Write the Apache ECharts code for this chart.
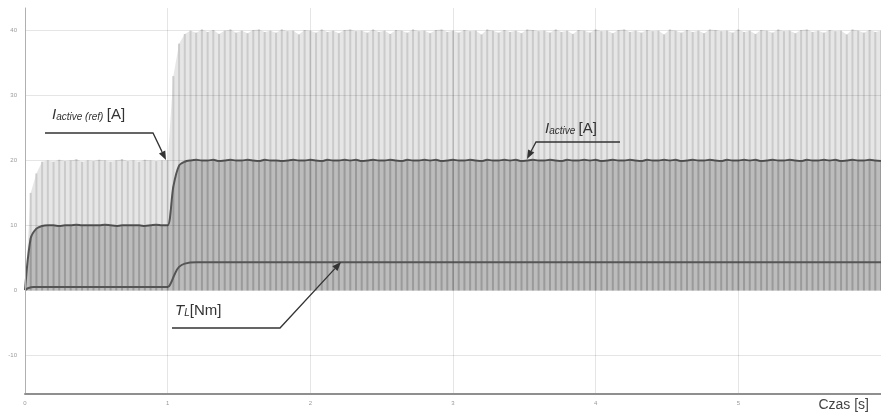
<!DOCTYPE html>
<html>
<head>
<meta charset="utf-8">
<script src="https://cdn.jsdelivr.net/npm/echarts@6/dist/echarts.min.js"></script>
<style>
  html, body { margin: 0; padding: 0; background: #fff; }
  #chart { width: 881px; height: 418px; }
</style>
</head>
<body>
<div id="chart"></div>
<script>
// sample step of the recorded signals [s]
var STEP = 0.04;

// upper envelope of the oscillating reference current (light band)
var refEnvelope = [
  0, 15, 18, 19.8,
  20.0, 19.8, 20.1, 19.9, 20.0, 20.2, 19.8, 20.0, 19.9, 20.1, 20.0, 19.8, 20.0, 20.2, 19.9, 20.0, 19.8, 20.1, 20.0, 19.9, 20.0,
  20, 33, 38, 39.5,
  40.0, 39.7, 40.2, 39.8, 40.1, 39.5, 40.0, 40.2, 39.7, 40.0,
  39.6, 40.1, 40.2, 39.8, 40.0, 39.7, 40.2, 39.9, 40.0, 39.4,
  40.1, 40.0, 39.7, 40.2, 39.8, 40.0, 39.6, 40.1, 40.2, 39.9,
  40.0, 39.7, 40.2, 39.8, 40.0, 39.5, 40.1, 40.0, 39.7, 40.2,
  39.9, 40.0, 39.6, 40.1, 40.2, 39.8, 40.0, 39.7, 40.1, 39.9,
  40.0, 39.4, 40.2, 40.0, 39.7, 40.1, 39.8, 40.0, 39.6, 40.2,
  40.1, 39.9, 40.0, 39.7, 40.2, 39.8, 40.0, 39.5, 40.1, 40.0,
  39.7, 40.2, 39.9, 40.0, 39.6, 40.1, 40.2, 39.8, 40.0, 39.7,
  40.1, 39.9, 40.0, 39.4, 40.2, 40.0, 39.7, 40.1, 39.8, 40.0,
  39.6, 40.2, 40.1, 39.9, 40.0, 39.7, 40.2, 39.8, 40.0, 39.5,
  40.1, 40.0, 39.7, 40.2, 39.9, 40.0, 39.6, 40.1, 40.2, 39.8,
  40.0, 39.7, 40.1, 39.9, 40.0, 39.4, 40.2, 40.0, 39.7, 40.1,
  39.8, 40.0
];

// active current I_active [A]
var iActive = [
  0, 8, 9.5, 9.9,
  10.0, 10.0, 9.9, 10.0, 10.0, 10.1, 10.0, 10.0, 10.0, 10.0, 10.1, 10.0, 9.9, 10.0, 10.0, 10.0, 10.0, 9.9, 10.0, 10.1, 10.0, 10.0,
  16, 19.2, 19.8,
  20.0, 20.1, 20.0, 20.0, 20.1, 19.9, 20.0, 20.1, 20.0, 20.0,
  20.1, 20.0, 19.9, 20.1, 20.0, 20.0, 19.9, 20.0, 20.1, 20.0,
  20.0, 20.1, 20.0, 19.9, 20.1, 20.0, 20.0, 20.1, 20.0, 20.1,
  19.9, 20.0, 20.1, 20.0, 20.0, 20.1, 20.0, 19.9, 20.1, 20.0,
  20.0, 20.1, 20.0, 20.1, 19.9, 20.0, 20.1, 20.0, 20.0, 20.1,
  20.0, 19.9, 20.1, 20.0, 20.0, 20.1, 20.0, 20.1, 19.9, 20.0,
  20.1, 20.0, 20.0, 20.1, 20.0, 19.9, 20.1, 20.0, 20.0, 20.1,
  20.0, 20.1, 19.9, 20.0, 20.1, 20.0, 20.0, 20.1, 20.0, 19.9,
  20.1, 20.0, 20.0, 20.1, 20.0, 20.1, 19.9, 20.0, 20.1, 20.0,
  20.0, 20.1, 20.0, 19.9, 20.1, 20.0, 20.0, 20.1, 20.0, 20.1,
  19.9, 20.0, 20.1, 20.0, 20.0, 20.1, 20.0, 19.9, 20.1, 20.0,
  20.0, 20.1, 20.0, 20.1, 19.9, 20.0, 20.1, 20.0, 20.0, 20.1,
  20.0, 19.9
];

// load torque T_L [Nm], key points
var tlTime = [0, 0.02, 0.06, 1.0, 1.02, 1.05, 1.08, 1.12, 1.2, 6.0];
var tlValue = [0, 0.3, 0.5, 0.5, 1.0, 2.5, 3.6, 4.1, 4.3, 4.3];

var xTicks = ['0', '1', '2', '3', '4', '5', '6'];
var yTicks = ['-10', '0', '10', '20', '30', '40'];

function toPoints(arr) {
  return arr.map(function (v, i) { return [+(i * STEP).toFixed(2), v]; });
}

var envPts = toPoints(refEnvelope);
var actPts = toPoints(iActive);
var tlPts = tlTime.map(function (t, i) { return [t, tlValue[i]]; });

var chart = echarts.init(document.getElementById('chart'));

var subText = {
  i: { fontFamily: 'Liberation Sans', fontStyle: 'italic', fontSize: 15, fill: '#333' },
  s: { fontFamily: 'Liberation Sans', fontStyle: 'italic', fontSize: 10, fill: '#333', padding: [5, 0, 0, 0] },
  n: { fontFamily: 'Liberation Sans', fontSize: 15, fill: '#333' }
};

var option = {
  backgroundColor: '#ffffff',
  animation: false,
  grid: { left: 25, right: 0, top: 8, bottom: 24 },
  xAxis: {
    type: 'value',
    min: 0,
    max: 6,
    interval: 1,
    z: 6,
    axisLine: { show: true, onZero: false, lineStyle: { color: '#8f8f8f', width: 2 } },
    axisTick: { show: false },
    splitLine: { show: true, lineStyle: { color: 'rgba(0,0,0,0.10)', width: 1 } },
    axisLabel: {
      fontSize: 6, color: '#9a9a9a', margin: 6,
      showMaxLabel: false,
      formatter: function (v) { return xTicks[Math.round(v)] || ''; }
    }
  },
  yAxis: {
    type: 'value',
    min: -16,
    max: 43.5,
    minInterval: 10,
    maxInterval: 10,
    z: 6,
    axisLine: { show: true, lineStyle: { color: '#b0b0b0', width: 1 } },
    axisTick: { show: false },
    splitLine: { show: true, showMinLine: false, showMaxLine: false, lineStyle: { color: 'rgba(0,0,0,0.10)', width: 1 } },
    axisLabel: {
      fontSize: 6, color: '#9a9a9a', margin: 8,
      showMinLabel: false, showMaxLabel: false,
      formatter: function (v) { return yTicks[Math.round(v / 10) + 1] || ''; }
    }
  },
  series: [
    {
      name: 'ref-area', type: 'line', data: envPts, symbol: 'none', z: 1,
      lineStyle: { width: 0 }, areaStyle: { color: '#e6e6e6', opacity: 1 }
    },
    {
      name: 'ref-stripes', type: 'bar', data: envPts, barWidth: 2, barGap: '-100%', z: 2,
      itemStyle: { color: '#cbcbcb' }
    },
    {
      name: 'act-area', type: 'line', data: actPts, symbol: 'none', z: 3,
      lineStyle: { width: 0 }, areaStyle: { color: '#bcbcbc', opacity: 1 }
    },
    {
      name: 'act-stripes', type: 'bar', data: actPts, barWidth: 2, barGap: '-100%', z: 4,
      itemStyle: { color: '#9a9a9a' }
    },
    {
      name: 'I_active', type: 'line', data: actPts, symbol: 'none', smooth: 0.3, z: 5,
      lineStyle: { color: '#555555', width: 2 }
    },
    {
      name: 'T_L', type: 'line', data: tlPts, symbol: 'none', smooth: 0.4, z: 5,
      lineStyle: { color: '#555555', width: 2 }
    }
  ],
  graphic: [
    // I_active(ref) label
    {
      type: 'text', left: 52, top: 107, z: 10,
      style: { text: '{i|I}{s|active (ref)} {n|[A]}', rich: subText }
    },
    {
      type: 'polyline', z: 10,
      shape: { points: [[45, 133], [153, 133], [162.1, 151.9]] },
      style: { stroke: '#333', lineWidth: 1.3, fill: null }
    },
    {
      type: 'polygon', z: 10,
      shape: { points: [[166, 160], [165.25, 150.4], [158.95, 153.4]] },
      style: { fill: '#333' }
    },
    // I_active label
    {
      type: 'text', left: 545, top: 121, z: 10,
      style: { text: '{i|I}{s|active} {n|[A]}', rich: subText }
    },
    {
      type: 'polyline', z: 10,
      shape: { points: [[620, 142], [536, 142], [531.2, 151]] },
      style: { stroke: '#333', lineWidth: 1.3, fill: null }
    },
    {
      type: 'polygon', z: 10,
      shape: { points: [[527, 159], [534.3, 152.6], [528.1, 149.4]] },
      style: { fill: '#333' }
    },
    // T_L label
    {
      type: 'text', left: 175, top: 303, z: 10,
      style: { text: '{i|T}{s|L}{n|[Nm]}', rich: subText }
    },
    {
      type: 'polyline', z: 10,
      shape: { points: [[172, 328], [280, 328], [334.9, 268.6]] },
      style: { stroke: '#333', lineWidth: 1.3, fill: null }
    },
    {
      type: 'polygon', z: 10,
      shape: { points: [[341, 262], [337.5, 271], [332.3, 266.2]] },
      style: { fill: '#333' }
    },
    // axis name
    {
      type: 'text', right: 12, top: 398, z: 10,
      style: { text: 'Czas [s]', fontFamily: 'Liberation Sans', fontSize: 14, fill: '#444' }
    }
  ]
};

chart.setOption(option);
</script>
</body>
</html>
